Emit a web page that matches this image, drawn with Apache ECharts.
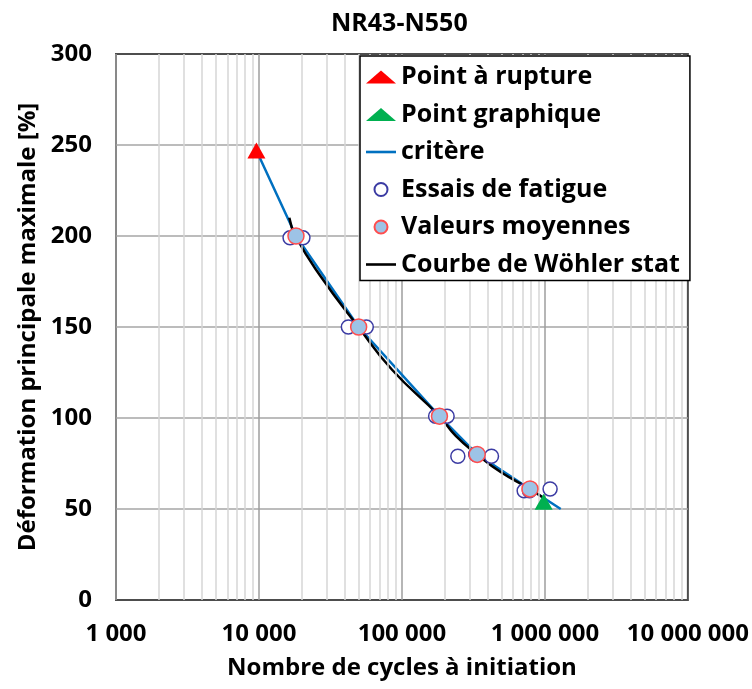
<!DOCTYPE html>
<html>
<head>
<meta charset="utf-8">
<script src="https://cdn.jsdelivr.net/npm/echarts@6/dist/echarts.min.js"></script>
<style>
html,body{margin:0;padding:0;background:#fff;}
#chart{width:752px;height:689px;}
</style>
</head>
<body>
<div id="chart"></div>
<script>
// ---- data ----
const chartTitle = 'NR43-N550';
const xAxisName = 'Nombre de cycles à initiation';
const yAxisName = 'Déformation principale maximale [%]';

const xTicks = [1000, 10000, 100000, 1000000, 10000000];
const xTickLabels = ['1 000', '10 000', '100 000', '1 000 000', '10 000 000'];
const xMinorTicks = [
  2000, 3000, 4000, 5000, 6000, 7000, 8000, 9000,
  20000, 30000, 40000, 50000, 60000, 70000, 80000, 90000,
  200000, 300000, 400000, 500000, 600000, 700000, 800000, 900000,
  2000000, 3000000, 4000000, 5000000, 6000000, 7000000, 8000000, 9000000
];
const yTicks = [0, 50, 100, 150, 200, 250, 300];

const pointRupture = [[9600, 247]];
const pointGraphique = [[980000, 54]];
const critere = [
  [9600, 247], [18150, 200], [49800, 150], [183000, 101],
  [336000, 80], [786000, 61], [1290000, 50]
];
const essaisFatigue = [
  [16500, 199], [18400, 200], [20300, 199],
  [42200, 150], [49700, 150], [56300, 150],
  [172000, 101], [207000, 101],
  [246000, 79], [328000, 80], [423000, 79],
  [716000, 60], [780000, 60], [1087000, 61]
];
const valeursMoyennes = [
  [18150, 200], [49800, 150], [183000, 101], [336000, 80], [786000, 61]
];
const courbeWohler = [
  [16300, 210], [18000, 200], [26900, 178], [49600, 150], [85300, 126.5],
  [183000, 101], [238000, 90.2], [336000, 80], [490000, 70.3], [786000, 61], [980000, 56]
];

const names = ['Point à rupture', 'Point graphique', 'critère', 'Essais de fatigue', 'Valeurs moyennes', 'Courbe de Wöhler stat'];

// ---- chart ----
const FONT = '"Open Sans"';
const LINE_ICON = 'path://M0,0H30V2.6H0Z';
const chart = echarts.init(document.getElementById('chart'), null, {renderer: 'canvas'});

const option = {
  backgroundColor: '#ffffff',
  animation: false,
  title: {
    text: chartTitle,
    left: 326,
    top: 6,
    textStyle: {fontFamily: FONT, fontWeight: 'bold', fontSize: 25, color: '#000'}
  },
  grid: {
    left: 116, right: 64, top: 54, bottom: 89,
    show: true, borderColor: '#4d4d4d', borderWidth: 2, backgroundColor: 'transparent'
  },
  legend: {
    orient: 'vertical',
    left: 360,
    top: 56,
    data: [
      {name: names[0]},
      {name: names[1]},
      {name: names[2], icon: LINE_ICON},
      {name: names[3]},
      {name: names[4]},
      {name: names[5], icon: LINE_ICON}
    ],
    itemWidth: 30,
    itemHeight: 13,
    itemGap: 9.5,
    padding: [7, 10, 2, 6],
    backgroundColor: '#ffffff',
    borderColor: '#000000',
    borderWidth: 1.5,
    borderRadius: 0,
    textStyle: {fontFamily: FONT, fontWeight: 'bold', fontSize: 25, color: '#000', lineHeight: 28},
    z: 10
  },
  xAxis: {
    type: 'log',
    logBase: 10,
    min: xTicks[0],
    max: xTicks[xTicks.length - 1],
    name: xAxisName,
    nameLocation: 'middle',
    nameGap: 56,
    nameTextStyle: {fontFamily: FONT, fontWeight: 'bold', fontSize: 24, color: '#000'},
    axisLine: {show: false},
    axisTick: {show: false},
    axisLabel: {
      margin: 22,
      fontFamily: FONT, fontWeight: 'bold', fontSize: 24, color: '#000',
      formatter: function (v) {
        const i = xTicks.indexOf(Math.round(v));
        return i >= 0 ? xTickLabels[i] : '';
      }
    },
    splitLine: {show: true, showMinLine: false, showMaxLine: false, lineStyle: {color: '#9e9e9e', width: 1.5}}
  },
  yAxis: {
    type: 'value',
    min: yTicks[0],
    max: yTicks[yTicks.length - 1],
    interval: yTicks[1] - yTicks[0],
    name: yAxisName,
    nameLocation: 'middle',
    nameGap: 74,
    nameTextStyle: {fontFamily: FONT, fontWeight: 'bold', fontSize: 24, color: '#000'},
    axisLine: {show: false},
    axisTick: {show: false},
    axisLabel: {margin: 24, fontFamily: FONT, fontWeight: 'bold', fontSize: 24, color: '#000'},
    splitLine: {show: true, showMinLine: false, showMaxLine: false, lineStyle: {color: '#a6a6a6', width: 1.5}}
  },
  series: [
    {
      name: 'minor-grid',
      type: 'scatter',
      data: [],
      silent: true,
      z: 1,
      markLine: {
        silent: true,
        symbol: ['none', 'none'],
        label: {show: false},
        animation: false,
        lineStyle: {color: '#d6d6d6', width: 1.5, type: 'solid'},
        emphasis: {disabled: true},
        data: xMinorTicks.map(v => ({xAxis: v}))
      }
    },
    {
      name: names[2],
      type: 'line',
      data: critere,
      smooth: false,
      showSymbol: false,
      symbol: 'none',
      lineStyle: {color: '#0070C0', width: 2.5},
      itemStyle: {color: '#0070C0'},
      z: 3
    },
    {
      name: names[5],
      type: 'line',
      data: courbeWohler,
      smooth: 0.5,
      showSymbol: false,
      symbol: 'none',
      lineStyle: {color: '#000000', width: 2.5},
      itemStyle: {color: '#000000'},
      z: 4
    },
    {
      name: names[3],
      type: 'scatter',
      data: essaisFatigue,
      symbol: 'circle',
      symbolSize: 14,
      itemStyle: {color: '#ffffff', borderColor: '#3B3BA3', borderWidth: 1.5, opacity: 1},
      z: 5
    },
    {
      name: names[4],
      type: 'scatter',
      data: valeursMoyennes,
      symbol: 'circle',
      symbolSize: 16,
      itemStyle: {color: '#9DC3E6', borderColor: '#FF4D4D', borderWidth: 1.5, opacity: 1},
      z: 6
    },
    {
      name: names[0],
      type: 'scatter',
      data: pointRupture,
      symbol: 'triangle',
      symbolSize: [18, 16],
      itemStyle: {color: '#FF0000', opacity: 1},
      z: 7
    },
    {
      name: names[1],
      type: 'scatter',
      data: pointGraphique,
      symbol: 'triangle',
      symbolSize: [18, 16],
      itemStyle: {color: '#00B050', opacity: 1},
      z: 7
    }
  ]
};
chart.setOption(option);
</script>
</body>
</html>
